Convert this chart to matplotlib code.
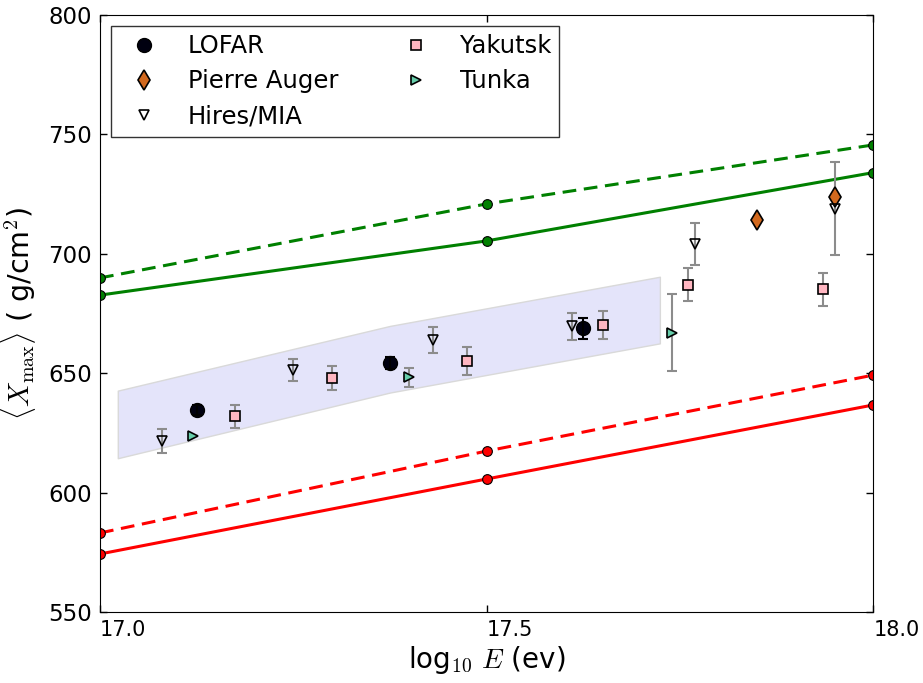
import matplotlib
matplotlib.use("Agg")
import matplotlib.pyplot as plt

plt.rcParams["mathtext.fontset"] = "cm"
plt.rcParams["xtick.direction"] = "in"
plt.rcParams["ytick.direction"] = "in"

# model curves (x: log10 E)
model_x = [17.0, 17.5, 18.0]
green_solid = [682.7, 705.4, 734.0]
green_dash = [689.9, 720.9, 745.6]
red_solid = [574.3, 605.7, 636.7]
red_dash = [583.1, 617.4, 649.2]

# shaded LOFAR band
band_x = [17.023, 17.375, 17.724]
band_lo = [614.4, 641.9, 662.5]
band_hi = [642.7, 669.8, 690.4]

# measurements
lofar_x = [17.125, 17.375, 17.625]
lofar_y = [634.5, 654.1, 668.8]
lofar_err = [2.0, 2.5, 4.4]

auger_x = [17.85, 17.95]
auger_y = [714.3, 723.8]

hires_x = [17.08, 17.25, 17.43, 17.61, 17.77, 17.95]
hires_y = [621.6, 651.4, 664.0, 669.6, 704.2, 718.9]
hires_err = [5.0, 4.7, 5.4, 5.7, 8.9, 19.4]

yakutsk_x = [17.175, 17.30, 17.475, 17.65, 17.76, 17.935]
yakutsk_y = [631.9, 648.0, 655.0, 670.1, 687.1, 685.1]
yakutsk_err = [4.9, 5.0, 5.9, 5.9, 7.0, 7.0]

tunka_x = [17.12, 17.40, 17.74]
tunka_y = [623.8, 648.2, 667.0]
tunka_err = [0.0, 3.9, 16.1]

fig = plt.figure(figsize=(9.23, 6.83), dpi=100)
ax = fig.add_axes([100 / 923, 71 / 683, 773.3 / 923, 597 / 683])

ax.fill_between(band_x, band_lo, band_hi, facecolor="#e4e4fa",
                edgecolor="#d9d9d9", lw=1, zorder=1)

dash = (4.5, 2.5)
ax.plot(model_x, green_solid, "-o", color="green", lw=2.2, ms=7, mec="k", mew=0.8, zorder=2)
ax.plot(model_x, green_dash, "--o", color="green", lw=2.2, ms=7, mec="k", mew=0.8,
        dashes=dash, zorder=2)
ax.plot(model_x, red_solid, "-o", color="red", lw=2.2, ms=7, mec="k", mew=0.8, zorder=2)
ax.plot(model_x, red_dash, "--o", color="red", lw=2.2, ms=7, mec="k", mew=0.8,
        dashes=dash, zorder=2)

ebar = dict(fmt="none", ecolor="#8c8c8c", elinewidth=1.5, capsize=3.5, capthick=1.5, zorder=3)
ax.errorbar(hires_x, hires_y, yerr=hires_err, **ebar)
ax.errorbar(yakutsk_x, yakutsk_y, yerr=yakutsk_err, **ebar)
ax.errorbar(tunka_x, tunka_y, yerr=tunka_err, **ebar)
ax.errorbar(lofar_x, lofar_y, yerr=lofar_err, fmt="none", ecolor="k",
            elinewidth=1.5, capsize=3.5, capthick=1.5, zorder=5)

h1, = ax.plot(lofar_x, lofar_y, "o", ms=10, mfc="#000010", mec="k", label="LOFAR", zorder=4)
h2, = ax.plot(auger_x, auger_y, "d", ms=10, mfc="chocolate", mec="k", mew=1.2,
              label="Pierre Auger", zorder=4)
h3, = ax.plot(hires_x, hires_y, "v", ms=7, mfc="none", mec="k", mew=1.2,
              label="Hires/MIA", zorder=4)
h4, = ax.plot(yakutsk_x, yakutsk_y, "s", ms=6.5, mfc="lightpink", mec="k", mew=1.2,
              label="Yakutsk", zorder=4)
h5, = ax.plot(tunka_x, tunka_y, ">", ms=6.5, mfc="mediumaquamarine", mec="k", mew=1.2,
              label="Tunka", zorder=4)

ax.set_xlim(17.0, 18.0)
ax.set_ylim(550, 800)
ax.set_xticks([17.0, 17.5, 18.0])
ax.set_yticks([550, 600, 650, 700, 750, 800])
ax.tick_params(top=True, right=True, length=5, width=1)
ax.tick_params(axis="x", labelsize=15, pad=6)
ax.tick_params(axis="y", labelsize=16.5, pad=6)
for lab in ax.get_xticklabels():
    lab.set_horizontalalignment("left")

ax.set_xlabel(r"log$_{10}$ $E$ (ev)", fontsize=20, labelpad=3)
ax.set_ylabel(r"$\langle X_{\rm max}\rangle$ ( g/cm$^2$)", fontsize=20.5, labelpad=7)

leg = ax.legend(handles=[h1, h2, h3, h4, h5], loc="upper left", ncol=2, numpoints=1,
                fontsize=17.5, frameon=True, fancybox=False, borderaxespad=0.45,
                columnspacing=2.2, handletextpad=0.8, borderpad=0.35,
                labelspacing=0.45)
leg.get_frame().set_edgecolor("k")
leg.get_frame().set_linewidth(1)

fig.savefig("out.png", dpi=100, facecolor="white")
